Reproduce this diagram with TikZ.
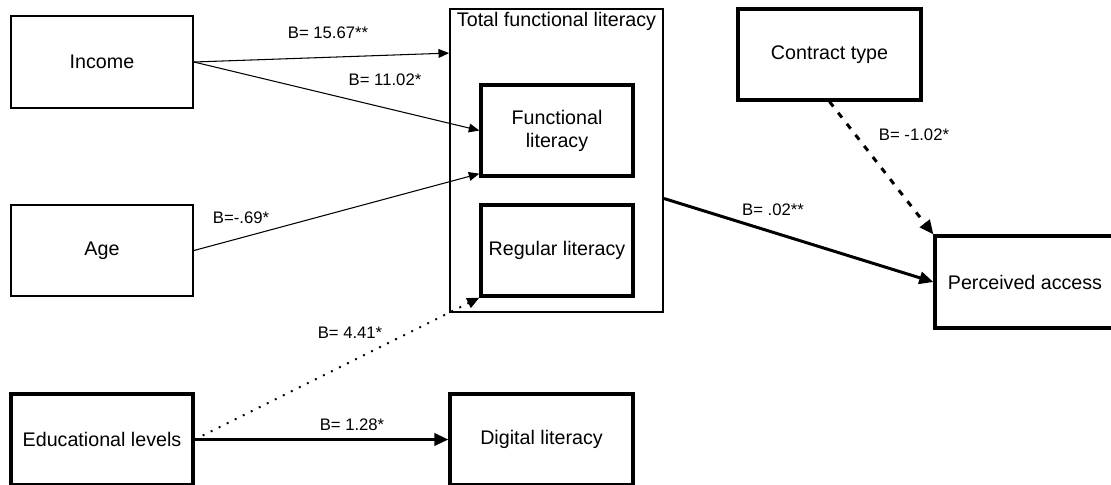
\documentclass[tikz,border=0pt]{standalone}
\usepackage{fontspec}
\setmainfont{Liberation Sans}
\usetikzlibrary{arrows.meta,calc,positioning}
\tikzset{
	thinbox/.style={rectangle,draw,line width=1.1pt,minimum width=3.64cm,minimum height=1.82cm,font=\fontsize{11.2}{13}\selectfont},
	boldbox/.style={rectangle,draw,line width=1.9pt,minimum width=3.04cm,minimum height=1.82cm,align=center,font=\fontsize{11.2}{13}\selectfont},
	link/.style={-{Triangle[width=5pt,length=6pt]},color=black,line width=0.6pt},
	boldlink/.style={-{Triangle[width=7pt,length=8pt]},color=black,line width=1.7pt},
	dotlink/.style={-{Triangle[width=6pt,length=7pt]},color=black,line width=1.1pt,dash pattern=on 1.1pt off 4pt},
	dashlink/.style={-{Triangle[width=7pt,length=8pt]},color=black,line width=1.7pt,dash pattern=on 3.5pt off 4.5pt},
	coef/.style={font=\fontsize{9.5}{11}\selectfont,inner sep=1pt}
}

\begin{document}
\begin{tikzpicture}[x=0.02cm,y=-0.02cm]
	\useasboundingbox (0,0) rectangle (1111,484);
	%%% predictors
	\node[thinbox,minimum height=1.84cm] (inc) at (102,62) {Income};
	\node[thinbox] (age) at (102,250.5) {Age};
	\node[thinbox,line width=1.9pt] (edu) at (102,439.5) {Educational levels};
	
	%%% literacy block
	\node[thinbox,minimum width=4.26cm,minimum height=6.06cm] (tot) at (556.5,160.5) {};
	\node[anchor=north,inner sep=2pt,font=\fontsize{11.2}{13}\selectfont] (tottitle) at (tot.north) {Total functional literacy};
	\node[boldbox] (func) at (557,130.5) {Functional\\literacy};
	\node[boldbox] (reg) at (557,250.5) {Regular literacy};
	\node[boldbox,minimum width=3.66cm] (dig) at (541.5,439.5) {Digital literacy};
	
	%%% outcome side
	\node[boldbox,minimum width=3.66cm] (ct) at (829.5,54.5) {Contract type};
	\node[boldbox,minimum width=3.6cm,minimum height=1.84cm] (pa) at (1025,282) {Perceived access};
	
	\draw[link] (inc.east) -- ($(tot.north west)+(0,45)$);
	\draw[link] (inc.east) -- (func.west);
	\draw[link] (age.east) -- ($(func.south west)+(0,-4)$);
	\draw[dotlink] (edu.east) -- (reg.south west);
	\draw[boldlink] (edu.east) -- (dig.west);
	\draw[boldlink] ($(tot.east)+(0,38)$) -- (pa.west);
	\draw[dashlink] (ct.south) -- (pa.north west);
	
	%%% coefficients
	\node[coef] (binctot) at (328,33) {B= 15.67**};
	\node[coef] (bincfunc) at (385,80) {B= 11.02*};
	\node[coef] (bagefunc) at (241,218) {B=-.69*};
	\node[coef] (beduref) at (350,333) {B= 4.41*};
	\node[coef] (bedudig) at (352,425) {B= 1.28*};
	\node[coef] (btotpa) at (773,210) {B= .02**};
	\node[coef] (bctpa) at (914,135) {B= -1.02*};
\end{tikzpicture}
\end{document}
